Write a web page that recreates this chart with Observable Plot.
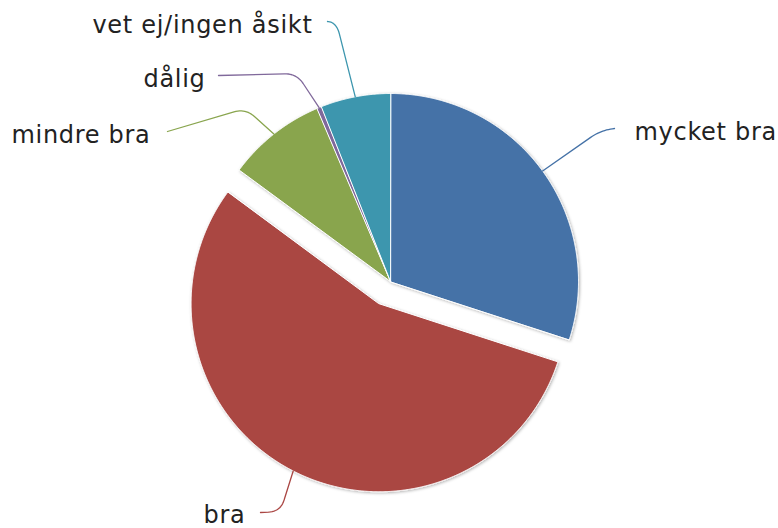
<!DOCTYPE html>
<html><head><meta charset="utf-8">
<script src="https://cdn.jsdelivr.net/npm/d3@7"></script>
<script src="https://cdn.jsdelivr.net/npm/@observablehq/plot@0.6"></script>
<style>body{margin:0;background:#fff}</style>
</head><body><div id="chart"></div>
<script>
// ---- data ----
const categories = ["mycket bra", "bra", "mindre bra", "dålig", "vet ej/ingen åsikt"];
const values = [30, 55.1, 8.5, 0.4, 6.0];
const colors = ["#4572A7", "#AA4643", "#89A54E", "#80699B", "#3D96AE"];
const sliced = [false, true, false, false, false];

// ---- layout (pixels) ----
const W = 778, H = 528, CX = 390, CY = 281, R = 188, OFFSET = 25;
const labelLayout = [
  {tx: 634, ty: 132, anchor: "start", end: [614, 128], elbow: [600, 130]},
  {tx: 245, ty: 515, anchor: "end",   end: [260, 512], elbow: [280, 511]},
  {tx: 150, ty: 135, anchor: "end",   end: [167, 131], elbow: [245, 108]},
  {tx: 205, ty: 79,  anchor: "end",   end: [218, 75],  elbow: [296, 73]},
  {tx: 312, ty: 25,  anchor: "end",   end: [327, 21],  elbow: [336, 22]}
];

const arcs = d3.pie().sort(null).value(d => d)(values);

const slicePts = [];
const connPts = [];
const labels = [];
arcs.forEach((a, i) => {
  const mid = (a.startAngle + a.endAngle) / 2;
  const ox = CX + (sliced[i] ? OFFSET * Math.sin(mid) : 0);
  const oy = CY - (sliced[i] ? OFFSET * Math.cos(mid) : 0);
  slicePts.push({name: categories[i], x: ox, y: oy});
  const n = Math.max(2, Math.ceil((a.endAngle - a.startAngle) / (Math.PI / 720)));
  for (let k = 0; k <= n; k++) {
    const t = a.startAngle + (a.endAngle - a.startAngle) * k / n;
    slicePts.push({name: categories[i], x: ox + R * Math.sin(t), y: oy - R * Math.cos(t)});
  }
  // connector
  const L = labelLayout[i];
  const B = [ox + R * Math.sin(mid), oy - R * Math.cos(mid)];
  const C = L.elbow, E = L.end;
  const dist = (p, q) => Math.hypot(p[0] - q[0], p[1] - q[1]);
  const rr = 12;
  const f1 = Math.min(0.9, rr / dist(B, C)), f2 = Math.min(0.9, rr / dist(E, C));
  const P1 = [C[0] + (B[0] - C[0]) * f1, C[1] + (B[1] - C[1]) * f1];
  const P2 = [C[0] + (E[0] - C[0]) * f2, C[1] + (E[1] - C[1]) * f2];
  connPts.push({name: categories[i], x: B[0], y: B[1]});
  for (let k = 0; k <= 12; k++) {
    const t = k / 12;
    const x = (1 - t) * (1 - t) * P1[0] + 2 * (1 - t) * t * C[0] + t * t * P2[0];
    const y = (1 - t) * (1 - t) * P1[1] + 2 * (1 - t) * t * C[1] + t * t * P2[1];
    connPts.push({name: categories[i], x, y});
  }
  connPts.push({name: categories[i], x: E[0], y: E[1]});
  labels.push({name: categories[i], x: L.tx, y: L.ty, anchor: L.anchor});
});

const color = {domain: categories, range: colors};
const font = "'DejaVu Sans', sans-serif";

const svg = Plot.plot({
  width: W, height: H,
  margin: 0,
  x: {domain: [0, W], range: [0, W], axis: null},
  y: {domain: [0, H], range: [0, H], axis: null},
  color,
  style: {background: "#fff", fontFamily: font},
  marks: [
    Plot.line(slicePts, {x: "x", y: "y", z: "name", fill: "name", stroke: "#fff", strokeWidth: 1, curve: "linear-closed"}),
    Plot.line(connPts, {x: "x", y: "y", z: "name", stroke: "name", strokeWidth: 1.3, curve: "linear"}),
    Plot.text(labels.filter(d => d.anchor === "start"), {x: "x", y: "y", text: "name", textAnchor: "start", fontSize: 24, fill: "#222", fontFamily: font}),
    Plot.text(labels.filter(d => d.anchor === "end"), {x: "x", y: "y", text: "name", textAnchor: "end", fontSize: 24, fill: "#222", fontFamily: font})
  ]
});

const s = d3.select(svg);
const filt = s.insert("defs", ":first-child").append("filter")
  .attr("id", "pieShadow").attr("x", "-10%").attr("y", "-10%").attr("width", "120%").attr("height", "120%");
filt.append("feDropShadow").attr("dx", 1).attr("dy", 1).attr("stdDeviation", 1.5)
  .attr("flood-color", "#000").attr("flood-opacity", 0.3);
s.select('g[aria-label="line"]').attr("filter", "url(#pieShadow)");
s.selectAll("text").attr("letter-spacing", "0.7");

document.getElementById("chart").appendChild(svg);
</script>
</body></html>
